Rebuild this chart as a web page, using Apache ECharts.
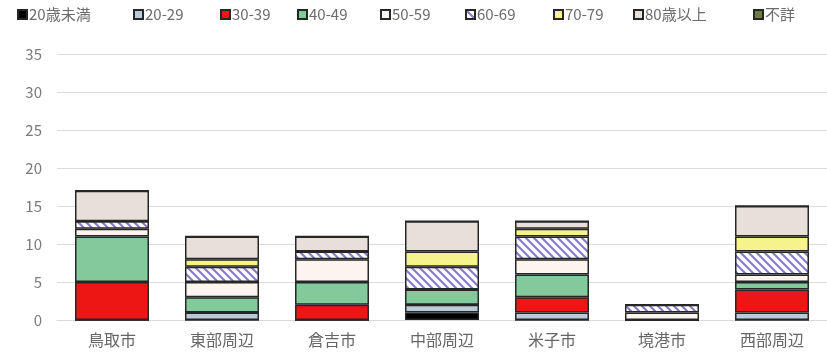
<!DOCTYPE html>
<html>
<head>
<meta charset="utf-8">
<script src="https://cdn.jsdelivr.net/npm/echarts@6/dist/echarts.min.js"></script>
<style>
  html, body { margin: 0; padding: 0; background: #fff; }
  #chart { width: 827px; height: 358px; }
</style>
</head>
<body>
<div id="chart"></div>
<script>
// Areas along the x axis
const areas = ['鳥取市', '東部周辺', '倉吉市', '中部周辺', '米子市', '境港市', '西部周辺'];

// Counts per age group, one value per area
const under20   = [0, 0, 0, 1, 0, 0, 0];
const age20s    = [0, 1, 0, 1, 1, 0, 1];
const age30s    = [5, 0, 2, 0, 2, 0, 3];
const age40s    = [6, 2, 3, 2, 3, 0, 1];
const age50s    = [1, 2, 3, 0, 2, 1, 1];
const age60s    = [1, 2, 1, 3, 3, 1, 3];
const age70s    = [0, 1, 0, 2, 1, 0, 2];
const over80    = [4, 3, 2, 4, 1, 0, 4];
const unknown   = [0, 0, 0, 0, 0, 0, 0];

const groupNames = ['20歳未満', '20-29', '30-39', '40-49', '50-59', '60-69', '70-79', '80歳以上', '不詳'];
const groupData  = [under20, age20s, age30s, age40s, age50s, age60s, age70s, over80, unknown];

// Left edge of each legend entry
const legendLeft = [12, 128, 215, 292, 375, 460, 548, 628, 748];

// Diagonal hatch used for the 60-69 group
function hatchPattern() {
  const c = document.createElement('canvas');
  c.width = 8; c.height = 8;
  const g = c.getContext('2d');
  g.fillStyle = '#ffffff';
  g.fillRect(0, 0, 8, 8);
  g.strokeStyle = '#8a7cc4';
  g.lineWidth = 2.2;
  g.beginPath();
  g.moveTo(-2, -2); g.lineTo(10, 10);
  g.moveTo(-2, 6); g.lineTo(2, 10);
  g.moveTo(6, -2); g.lineTo(10, 2);
  g.stroke();
  return { image: c, repeat: 'repeat' };
}

const fills = [
  '#000000',
  '#b9cbdb',
  '#ee1515',
  '#82c99c',
  '#fbf4ef',
  hatchPattern(),
  '#f7f38c',
  '#e8e0d8',
  '#6e7d45'
];

const series = groupNames.map((name, i) => ({
  name: name,
  type: 'bar',
  stack: 'total',
  barWidth: 74,
  data: groupData[i],
  itemStyle: {
    color: fills[i],
    borderColor: '#262626',
    borderWidth: 1.5
  },
  emphasis: { disabled: true }
}));

const legends = groupNames.map((name, i) => ({
  top: 2,
  left: legendLeft[i],
  itemWidth: 9,
  itemHeight: 9,
  icon: 'rect',
  selectedMode: false,
  textStyle: { color: '#6b6b6b', fontSize: 15, padding: [0, 0, 0, -3] },
  data: [name]
}));

const chart = echarts.init(document.getElementById('chart'), null, { renderer: 'canvas' });
chart.setOption({
  animation: false,
  textStyle: { fontFamily: '"Noto Sans CJK JP", "Noto Sans", sans-serif' },
  legend: legends,
  grid: { left: 57, right: -3, top: 54, bottom: 38 },
  xAxis: {
    type: 'category',
    data: areas,
    axisTick: { show: false },
    axisLine: { lineStyle: { color: '#d9d9d9' } },
    axisLabel: { color: '#666666', fontSize: 16, margin: 12 }
  },
  yAxis: {
    type: 'value',
    min: 0,
    max: 35,
    interval: 5,
    axisLine: { show: false },
    axisTick: { show: false },
    splitLine: { lineStyle: { color: '#dcdcdc', width: 1 } },
    axisLabel: { color: '#7a7a7a', fontSize: 15, margin: 15 }
  },
  series: series
});
</script>
</body>
</html>
